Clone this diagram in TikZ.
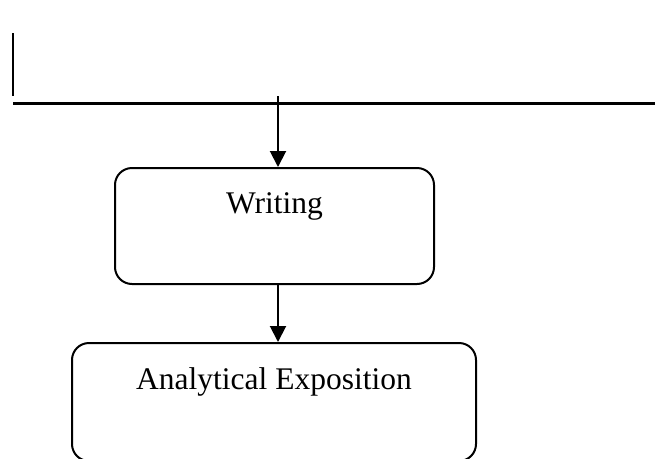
\documentclass[tikz,border=0pt]{standalone}
\usepackage{fontspec}
\setmainfont{Liberation Serif}
\usepackage{tikz}
\usetikzlibrary{arrows.meta}

\tikzset{
  stagebox/.style={draw, line width=2pt, rounded corners=17pt, inner xsep=0pt,
    inner ysep=0pt, font=\fontsize{31.5}{37}\selectfont}
}

\begin{document}
\begin{tikzpicture}[x=1pt, y=-1pt]
  \useasboundingbox (0,0) rectangle (655,458);
  \clip (0,0) rectangle (655,458);

  % Coordinates
  \coordinate (T) at (13, 33);
  \coordinate (L) at (13, 96);
  \coordinate (H) at (13, 103);
  \coordinate (R) at (655, 103);
  \coordinate (feed) at (278, 96);

  % Boxes
  \node[stagebox, anchor=north, minimum width=319pt, text height=45pt, text depth=71pt]
    (writing) at (274.5, 167) {Writing};
  \node[stagebox, anchor=north, minimum width=404pt, text height=46pt, text depth=72pt]
    (analytic) at (274, 342) {Analytical Exposition};

  % Drawing
  \draw[line width=2.2pt] (T) -- (L);
  \draw[line width=3pt] (H) -- (R);
  \draw[line width=2pt, -{Triangle[length=16pt, width=16pt]}] (feed) -- (feed |- writing.north);
  \draw[line width=2pt, -{Triangle[length=16pt, width=16pt]}] (writing.south -| feed) -- (feed |- analytic.north);
\end{tikzpicture}
\end{document}
